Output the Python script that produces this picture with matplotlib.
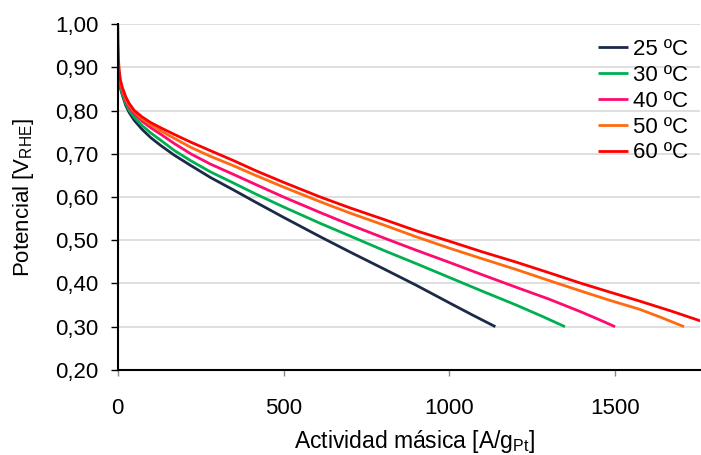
import numpy as np
import matplotlib
matplotlib.use("Agg")
import matplotlib.pyplot as plt
from matplotlib.ticker import FuncFormatter, MultipleLocator

plt.rcParams['font.family'] = ['Liberation Sans', 'DejaVu Sans']

labels = ['25 ºC', '30 ºC', '40 ºC', '50 ºC', '60 ºC']
colors = ['#1B2A47', '#00B050', '#FF0A6E', '#FF6A10', '#FF0000']

# actividad masica [A/gPt] vs potencial [V_RHE]
x25 = [0, 1, 2, 4, 8, 14, 24, 34, 50, 74, 100, 130, 170, 220, 280, 350, 416, 500, 611, 700, 807, 900, 1003, 1070, 1139]
v25 = [0.90, 0.888, 0.88, 0.867, 0.852, 0.835, 0.812, 0.796, 0.777, 0.756, 0.737, 0.719, 0.697, 0.673, 0.645,
       0.616, 0.588, 0.553, 0.508, 0.473, 0.432, 0.396, 0.354, 0.327, 0.300]

x30 = [0, 1, 2, 4, 8, 14, 24, 34, 50, 74, 100, 130, 170, 220, 280, 350, 416, 500, 611, 700, 807, 900, 1003, 1100, 1199, 1280, 1349]
v30 = [0.90, 0.89, 0.882, 0.87, 0.855, 0.838, 0.816, 0.801, 0.784, 0.765, 0.748, 0.731, 0.708, 0.684, 0.658,
       0.632, 0.607, 0.577, 0.539, 0.510, 0.475, 0.446, 0.413, 0.382, 0.351, 0.324, 0.300]

x40 = [0, 1, 2, 4, 8, 14, 24, 34, 50, 74, 100, 130, 170, 220, 280, 350, 416, 500, 611, 700, 807, 900, 1003, 1100, 1199, 1300, 1395, 1450, 1500]
v40 = [0.92, 0.905, 0.895, 0.88, 0.862, 0.845, 0.823, 0.808, 0.792, 0.775, 0.760, 0.745, 0.724, 0.700, 0.676,
       0.652, 0.629, 0.600, 0.564, 0.536, 0.504, 0.477, 0.448, 0.420, 0.392, 0.364, 0.335, 0.317, 0.300]

x50 = [0, 1, 2, 4, 8, 14, 24, 34, 50, 74, 100, 130, 170, 220, 280, 350, 416, 500, 611, 700, 807, 900, 1003, 1100, 1199, 1300, 1395, 1480, 1575, 1640, 1708]
v50 = [0.95, 0.92, 0.905, 0.888, 0.866, 0.849, 0.828, 0.813, 0.797, 0.781, 0.767, 0.753, 0.736, 0.715, 0.694,
       0.672, 0.650, 0.623, 0.589, 0.563, 0.534, 0.508, 0.481, 0.457, 0.433, 0.407, 0.383, 0.362, 0.340, 0.321, 0.300]

x60 = [0, 1, 2, 4, 8, 14, 24, 34, 50, 74, 100, 130, 170, 220, 280, 350, 416, 500, 611, 700, 807, 900, 1003, 1100, 1199, 1300, 1395, 1480, 1575, 1670, 1759]
v60 = [1.00, 0.95, 0.92, 0.895, 0.87, 0.853, 0.832, 0.817, 0.800, 0.785, 0.772, 0.760, 0.745, 0.727, 0.707,
       0.684, 0.661, 0.634, 0.600, 0.575, 0.547, 0.522, 0.497, 0.473, 0.450, 0.425, 0.401, 0.381, 0.359, 0.336, 0.313]

xs = [x25, x30, x40, x50, x60]
vs = [v25, v30, v40, v50, v60]

fig = plt.figure(figsize=(7.01, 4.55), dpi=100)
ax = fig.add_axes([0.168, 0.187, 0.830, 0.760])

for x, v, c, lab in zip(xs, vs, colors, labels):
    ax.plot(x, v, color=c, lw=2, label=lab, solid_joinstyle='round', solid_capstyle='butt')

ax.set_xlim(0, 1755)
ax.set_ylim(0.2, 1.0)
ax.yaxis.set_major_locator(MultipleLocator(0.1))
ax.xaxis.set_major_locator(MultipleLocator(500))
ax.yaxis.set_major_formatter(FuncFormatter(lambda y, p: f"{y:.2f}".replace('.', ',')))
ax.grid(axis='y', color='#D9D9D9', lw=1.2)
ax.set_axisbelow(True)

for s in ['top', 'right']:
    ax.spines[s].set_visible(False)
for s in ['left', 'bottom']:
    ax.spines[s].set_linewidth(1.5)
    ax.spines[s].set_color('black')

ax.tick_params(axis='y', direction='out', length=5, width=1, labelsize=16, pad=9)
ax.tick_params(axis='x', direction='out', length=4, width=1, color='#888888', labelsize=16, pad=16)

ax.set_ylabel('Potencial [V$_\\mathregular{RHE}$]', fontsize=16)
ax.set_xlabel('Actividad másica [A/g$_\\mathregular{Pt}$]', fontsize=16.5)
ax.yaxis.set_label_coords(-0.14, 0.5)
ax.xaxis.set_label_coords(0.51, -0.168)

ax.legend(loc='upper left', bbox_to_anchor=(589 / 701, 1 - 30 / 455), bbox_transform=fig.transFigure,
          borderaxespad=0, frameon=False, fontsize=16,
          handlelength=1.36, handletextpad=0.2, labelspacing=0.22)

fig.savefig('out.png', dpi=100)
